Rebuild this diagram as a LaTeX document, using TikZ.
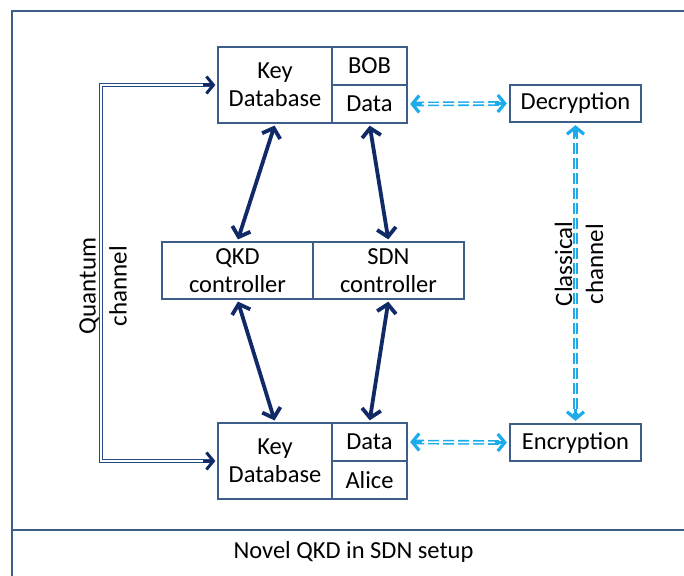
\documentclass[tikz,border=0pt]{standalone}
\usepackage{fontspec}
\setmainfont{Carlito}
\usetikzlibrary{arrows.meta,calc}
\definecolor{boxc}{RGB}{62,94,138}
\definecolor{navy}{RGB}{16,42,104}
\definecolor{lblue}{RGB}{28,172,236}
\definecolor{qline}{RGB}{40,74,130}
\tikzset{
  blk/.style={draw=boxc, line width=2.3pt, fill=white, inner sep=0pt, align=center,
    font=\fontsize{24.5}{28}\selectfont},
  ctrlboth/.style={{Straight Barb[length=8.5pt,width=19pt]}-{Straight Barb[length=8.5pt,width=19pt]},
    draw=navy, line width=3.8pt},
  qdouble/.style={draw=qline, double=white, line width=1.5pt, double distance=1.6pt},
  qtip/.style={-{Straight Barb[length=7pt,width=17pt]}, draw=navy, line width=3pt},
  cdash/.style={draw=lblue, double=white, line width=1.6pt, double distance=1.5pt,
    dash pattern=on 11pt off 4pt},
  ctip/.style={-{Straight Barb[length=7pt,width=17pt]}, draw=lblue, line width=3.2pt},
  vlabel/.style={rotate=90, align=center, font=\fontsize{25}{31}\selectfont},
  frame/.style={draw=boxc, line width=2.3pt}
}
\begin{document}
\begin{tikzpicture}[x=1pt,y=-1pt]
\useasboundingbox (0,0) rectangle (684,575);
\fill[white] (0,0) rectangle (684,575);

% outer frame and caption strip
\begin{scope}
  \clip (0,0) rectangle (684,575);
  \draw[frame] (12,11) rectangle (720,620);
  \draw[frame] (12,530) -- (720,530);
\end{scope}
\node[font=\fontsize{24.5}{28}\selectfont] (caption) at (353.5,552) {Novel QKD in SDN setup};

% Bob side
\node[blk, minimum width=114pt, minimum height=76pt] (topKD) at (275,85) {Key\\Database};
\node[blk, minimum width=75pt, minimum height=38pt] (bob) at (369.5,66) {BOB};
\node[blk, minimum width=75pt, minimum height=38pt] (dataT) at (369.5,104) {Data};
\node[blk, minimum width=131pt, minimum height=37pt] (decr) at (575.5,103.5) {Decryption};

% controllers
\node[blk, minimum width=151pt, minimum height=57pt] (qkd) at (237.5,270.5) {QKD\\controller};
\node[blk, minimum width=151pt, minimum height=57pt] (sdn) at (388.5,270.5) {SDN\\controller};

% Alice side
\node[blk, minimum width=114pt, minimum height=76pt] (botKD) at (275,461) {Key\\Database};
\node[blk, minimum width=75pt, minimum height=38pt] (dataB) at (369.5,442) {Data};
\node[blk, minimum width=75pt, minimum height=38pt] (alice) at (369.5,480) {Alice};
\node[blk, minimum width=131pt, minimum height=37pt] (encr) at (575.5,442.5) {Encryption};

% control links
\draw[ctrlboth, shorten <=1.5pt, shorten >=1.5pt] (topKD.south) -- (qkd.north);
\draw[ctrlboth, shorten <=1.5pt, shorten >=1.5pt] (dataT.south) -- (sdn.north);
\draw[ctrlboth, shorten <=1.5pt, shorten >=1.5pt] (qkd.south) -- (botKD.north);
\draw[ctrlboth, shorten <=1.5pt, shorten >=1.5pt] (sdn.south) -- (dataB.north);

% quantum channel
\coordinate (qcorner) at ($(topKD.west)+(-116,0)$);
\draw[qdouble, shorten <=4pt, shorten >=4pt] (topKD.west) -- (qcorner) |- (botKD.west);
\draw[qtip, shorten >=1.5pt] ($(topKD.west)+(-14,0)$) -- (topKD.west);
\draw[qtip, shorten >=1.5pt] ($(botKD.west)+(-14,0)$) -- (botKD.west);
\node[vlabel] (qlabel) at (103,286) {Quantum\\channel};

% classical channel
\draw[cdash, shorten <=5pt, shorten >=5pt] (dataT.east) -- (decr.west);
\draw[ctip, shorten >=2pt] ($(dataT.east)+(14,0)$) -- (dataT.east);
\draw[ctip, shorten >=2pt] ($(decr.west)+(-14,0)$) -- (decr.west);

\draw[cdash, shorten <=5pt, shorten >=5pt] (dataB.east) -- (encr.west);
\draw[ctip, shorten >=2pt] ($(dataB.east)+(14,0)$) -- (dataB.east);
\draw[ctip, shorten >=2pt] ($(encr.west)+(-14,0)$) -- (encr.west);

\draw[cdash, shorten <=5pt, shorten >=5pt] (decr.south) -- (encr.north);
\draw[ctip, shorten >=2pt] ($(decr.south)+(0,14)$) -- (decr.south);
\draw[ctip, shorten >=2pt] ($(encr.north)+(0,-14)$) -- (encr.north);
\node[vlabel] (clabel) at (579,264) {Classical\\channel};
\end{tikzpicture}
\end{document}
